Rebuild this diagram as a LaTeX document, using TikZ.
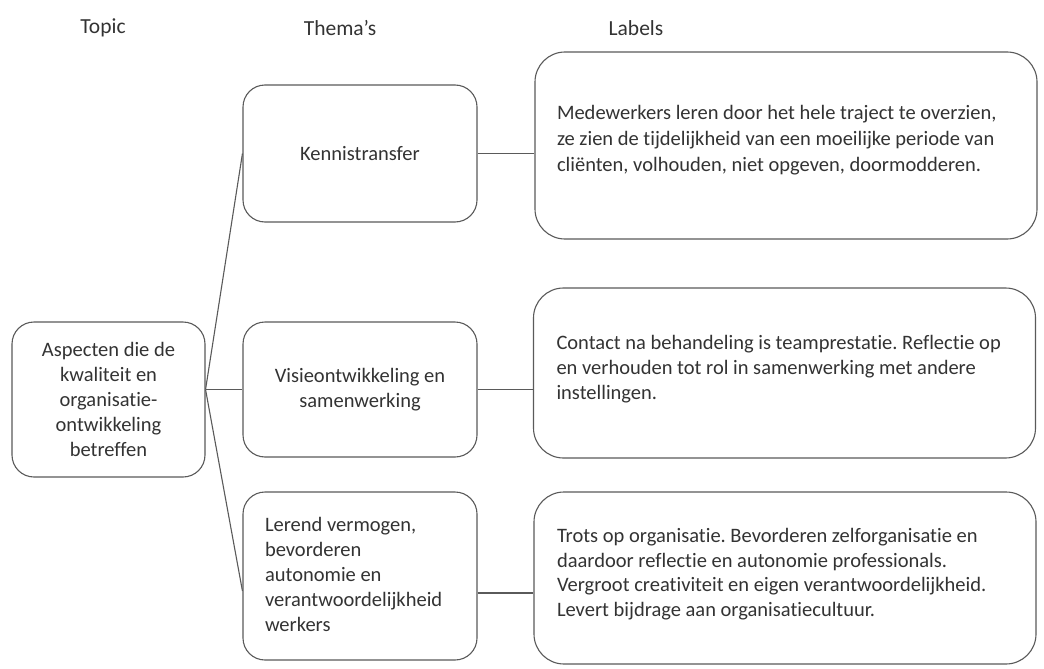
\documentclass[tikz,border=0pt]{standalone}
\usepackage{fontspec}
\setmainfont[Ligatures={NoCommon}]{Carlito}
\usetikzlibrary{calc}
\frenchspacing
\definecolor{edge}{HTML}{5A5A5A}
\definecolor{ink}{HTML}{333333}
\tikzset{
  box/.style={draw=edge, line width=1.1pt, rounded corners=22pt, inner sep=0pt,
    text=ink, font=\fontsize{20.5}{25}\selectfont},
  topicbox/.style={box, minimum width=193pt, minimum height=155pt, align=center},
  themabox/.style={box, minimum width=234pt, align=center},
  labelbox/.style={box, minimum width=502pt, rounded corners=30pt},
  head/.style={text=ink, font=\fontsize{21.5}{24}\selectfont, inner sep=0pt},
  link/.style={draw=edge, line width=1.1pt}
}
\begin{document}
\begin{tikzpicture}[x=1pt,y=-1pt]
\useasboundingbox[fill=white] (0,0) rectangle (1044,669);
\node[head] (h1) at (103,28) {Topic};
\node[head] (h2) at (340,28) {Thema’s};
\node[head] (h3) at (636,28) {Labels};

\node[topicbox] (topic) at (108.5,399.5) {Aspecten die de\\kwaliteit en\\organisatie-\\ontwikkeling\\betreffen};

\node[themabox, minimum height=137pt] (t1) at (360,153.5) {Kennistransfer};
\node[themabox, minimum height=135pt] (t2) at (360,389.5) {Visieontwikkeling en\\samenwerking};
\node[themabox, minimum height=168pt, align=left] (t3) at (360,576) {\parbox{190pt}{\raggedright\fontsize{20.5}{25}\selectfont Lerend vermogen,\\bevorderen\\autonomie en\\verantwoordelijkheid\\werkers\\[4pt]}};

\node[labelbox, minimum height=187pt] (l1) at (786,145.5) {\parbox{458pt}{\raggedright\fontsize{20.5}{26}\selectfont Medewerkers leren door het hele traject te overzien,\\ze zien de tijdelijkheid van een moeilijke periode van\\cliënten, volhouden, niet opgeven, doormodderen.\\[10pt]}};
\node[labelbox, minimum height=170pt] (l2) at (784.5,373) {\parbox{456pt}{\raggedright\fontsize{20.5}{25}\selectfont Contact na behandeling is teamprestatie. Reflectie op\\en verhouden tot rol in samenwerking met andere\\instellingen.\\[8pt]}};
\node[labelbox, minimum height=172pt] (l3) at (785,578) {\parbox{456pt}{\raggedright\fontsize{20.5}{24.5}\selectfont Trots op organisatie. Bevorderen zelforganisatie en\\daardoor reflectie en autonomie professionals.\\Vergroot creativiteit en eigen verantwoordelijkheid.\\Levert bijdrage aan organisatiecultuur.\\[8pt]}};

\coordinate (hub) at (topic.east |- t2.west);
\coordinate (t3in) at ($(t3.west)+(0,15)$);
\coordinate (t3out) at ($(t3.east)+(0,17)$);
\draw[link] (hub) -- (t1.west);
\draw[link] (hub) -- (t2.west);
\draw[link] (hub) -- (t3in);
\draw[link] (t1.east) -- (l1.west |- t1.east);
\draw[link] (t2.east) -- (l2.west |- t2.east);
\draw[link] (t3out) -- (l3.west |- t3out);
\end{tikzpicture}
\end{document}
